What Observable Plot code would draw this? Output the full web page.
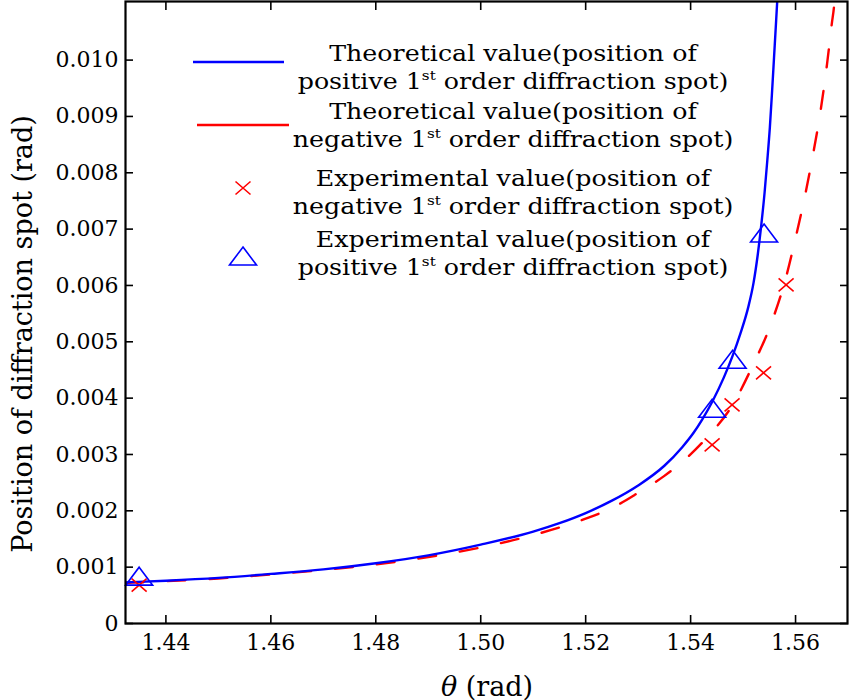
<!DOCTYPE html>
<html><head><meta charset="utf-8">
<script src="https://cdn.jsdelivr.net/npm/d3@7"></script>
<script src="https://cdn.jsdelivr.net/npm/@observablehq/plot@0.6"></script>
<style>
body{margin:0;background:#fff;}
#wrap{position:relative;width:851px;height:700px;font-family:"DejaVu Serif",serif;color:#000;}
.lt{position:absolute;white-space:nowrap;transform:translate(-50%,-50%) scaleX(1.1);font-family:"DejaVu Serif",serif;font-size:23px;line-height:1;}
.lt sup{font-family:"DejaVu Serif",serif;font-size:0.6em;vertical-align:0.6em;line-height:0;}
.sym{position:absolute;}
</style></head><body><div id="wrap"></div>
<script>
const xTicks=[1.44,1.46,1.48,1.50,1.52,1.54,1.56];
const xTickLabels=["1.44","1.46","1.48","1.50","1.52","1.54","1.56"];
const yTicks=[0,0.001,0.002,0.003,0.004,0.005,0.006,0.007,0.008,0.009,0.010];
const yTickLabels=["0","0.001","0.002","0.003","0.004","0.005","0.006","0.007","0.008","0.009","0.010"];

// Theoretical, positive 1st order spot
const thetaPos=[1.4323,1.44,1.45,1.46,1.47,1.48,1.49,1.50,1.51,1.515,1.52,1.525,1.53,1.535,1.5384,1.5406,1.5422,1.5442,1.5463,1.5480,1.5495,1.5510,1.5520,1.5528,1.5535,1.5541,1.5546,1.5551,1.5555,1.5559,1.5563,1.5566,1.5569];
const posTheory=[0.00073,0.00076,0.00081,0.00088,0.00096,0.00107,0.00121,0.00140,0.00163,0.00178,0.00196,0.00218,0.00245,0.00280,0.00313,0.00339,0.00362,0.00395,0.00436,0.00475,0.00515,0.00562,0.00605,0.00655,0.00710,0.00765,0.00820,0.00880,0.00940,0.01005,0.01070,0.01120,0.01170];

// Theoretical, negative 1st order spot
const thetaNeg=[1.4323,1.44,1.45,1.46,1.47,1.48,1.49,1.50,1.51,1.52,1.525,1.53,1.535,1.5383,1.5430,1.5480,1.5519,1.5550,1.5582,1.5599,1.5619,1.5634,1.5648,1.5660,1.5669,1.5674,1.5677];
const negTheory=[0.00072,0.00075,0.00080,0.00087,0.00095,0.00105,0.00118,0.00135,0.00157,0.00186,0.00205,0.00232,0.00262,0.00286,0.00329,0.00388,0.00459,0.00524,0.00615,0.00680,0.00764,0.00836,0.00912,0.00993,0.01064,0.01103,0.01150];

// Experimental values
const thetaExpNeg=[1.4349,1.5441,1.5479,1.5539,1.5582];
const negExp=[0.00068,0.00317,0.00388,0.00445,0.00601];
const thetaExpPos=[1.4349,1.5441,1.5480,1.5540];
const posExp=[0.00084,0.00382,0.00469,0.00693];

const BLUE="#0000ff", RED="#ff0000";
const triSym={draw(c){const w=13.5,h=9;c.moveTo(0,-h);c.lineTo(w,h);c.lineTo(-w,h);c.closePath();}};
const xSym={draw(c){const w=7.5,h=6.5;c.moveTo(-w,-h);c.lineTo(w,h);c.moveTo(-w,h);c.lineTo(w,-h);}};

const pos=thetaPos.map((t,i)=>({t,v:posTheory[i]}));
const neg=thetaNeg.map((t,i)=>({t,v:negTheory[i]}));
const eNeg=thetaExpNeg.map((t,i)=>({t,v:negExp[i]}));
const ePos=thetaExpPos.map((t,i)=>({t,v:posExp[i]}));
const blank=()=>"";

const chart=Plot.plot({
  width:851,height:700,
  marginLeft:125,marginRight:4,marginTop:1,marginBottom:77,
  style:{fontFamily:"DejaVu Serif",fontSize:"22px",color:"#000",background:"#fff"},
  x:{domain:[1.4323,1.5699]},
  y:{domain:[0,0.01104]},
  marks:[
    Plot.line(neg,{x:"t",y:"v",stroke:RED,strokeWidth:2.4,strokeDasharray:"18,24",curve:"monotone-x",clip:true}),
    Plot.line(pos,{x:"t",y:"v",stroke:BLUE,strokeWidth:2.4,curve:"monotone-x",clip:true}),
    Plot.dot(eNeg,{x:"t",y:"v",symbol:xSym,stroke:RED,strokeWidth:1.6,fill:"none"}),
    Plot.dot(ePos,{x:"t",y:"v",symbol:triSym,stroke:BLUE,strokeWidth:1.6,fill:"none"}),
    Plot.axisX(xTicks,{anchor:"bottom",tickSize:-8,tickPadding:19,strokeWidth:1.6,tickFormat:(d,i)=>xTickLabels[i],label:null,fontSize:22}),
    Plot.axisX(xTicks,{anchor:"top",tickSize:-8,strokeWidth:1.6,tickFormat:blank,label:null}),
    Plot.axisY(yTicks,{anchor:"left",tickSize:-8,tickPadding:15,strokeWidth:1.6,tickFormat:(d,i)=>yTickLabels[i],label:null,fontSize:22}),
    Plot.axisY(yTicks,{anchor:"right",tickSize:-8,strokeWidth:1.6,tickFormat:blank,label:null}),
    Plot.frame({stroke:"#000",strokeWidth:2.2})
  ]
});
const wrap=document.getElementById("wrap");
wrap.appendChild(chart);
chart.style.position="absolute";chart.style.left="0";chart.style.top="0";

function add(html,cls,x,y,extra){const d=document.createElement("div");d.className=cls;d.innerHTML=html;d.style.left=x+"px";d.style.top=y+"px";if(extra)Object.assign(d.style,extra);wrap.appendChild(d);return d;}
// legend texts
const legendLines=[
  ["Theoretical value(position of",53],
  ["positive 1<sup>st</sup> order diffraction spot)",81],
  ["Theoretical value(position of",111],
  ["negative 1<sup>st</sup> order diffraction spot)",139],
  ["Experimental value(position of",178],
  ["negative 1<sup>st</sup> order diffraction spot)",206],
  ["Experimental value(position of",239],
  ["positive 1<sup>st</sup> order diffraction spot)",267]
];
legendLines.forEach(([t,y])=>add(t,"lt",513,y));
// legend symbols
add(`<svg width="100" height="30"><line x1="4" x2="95" y1="15" y2="15" stroke="${BLUE}" stroke-width="2.6"/></svg>`,"sym",189,47);
add(`<svg width="100" height="30"><line x1="8" x2="100" y1="15" y2="15" stroke="${RED}" stroke-width="2.6"/></svg>`,"sym",189,110);
add(`<svg width="30" height="30"><path d="M7.5,8.5L22.5,21.5M7.5,21.5L22.5,8.5" stroke="${RED}" stroke-width="1.6" fill="none"/></svg>`,"sym",228,173);
add(`<svg width="34" height="30"><path d="M17,6L30.5,24L3.5,24Z" stroke="${BLUE}" stroke-width="1.6" fill="none"/></svg>`,"sym",226,241);
// axis titles
add("Position of diffraction spot (rad)","lt",22,334,{fontSize:"27px",fontFamily:"DejaVu Serif",transform:"translate(-50%,-50%) rotate(-90deg)"});
add("<i>θ</i> (rad)","lt",487,686,{fontSize:"27px",transform:"translate(-50%,-50%)"});
</script></body></html>
